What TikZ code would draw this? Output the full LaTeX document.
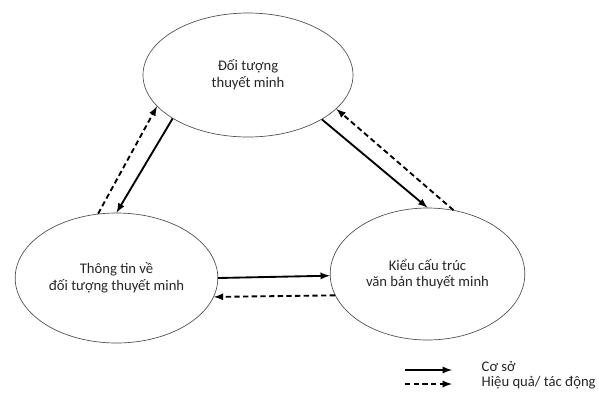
\documentclass[tikz,border=0pt]{standalone}
\usepackage{fontspec}
\setmainfont{Carlito}
\usepackage{tikz}
\usetikzlibrary{shapes.geometric}

\begin{document}
\begin{tikzpicture}[>=latex, x=0.75pt, y=-0.75pt,
  bubble/.style={draw=black!70, line width=0.5pt, ellipse, inner sep=0pt,
    align=center, text=black!85, font=\fontsize{11}{12.5}\selectfont},
  coso/.style={line width=1.4pt, ->},
  hieuqua/.style={line width=1.4pt, ->, dash pattern=on 4pt off 2.5pt}]
  \useasboundingbox (0,0) rectangle (599,397);
  \node (doituong) at (248,75) [bubble, minimum width=157.5pt, minimum height=93pt] {Đối tượng\\thuyết minh};
  \node (thongtin) at (116.5,278) [bubble, minimum width=152pt, minimum height=97.5pt] {Thông tin về\\đối tượng thuyết minh};
  \node (kieu) at (427.5,274) [bubble, minimum width=146pt, minimum height=99pt] {Kiểu cấu trúc\\văn bản thuyết minh};
  \draw [coso] (doituong.210.5) -- (thongtin.90);
  \draw [hieuqua] (thongtin.106.8) -- (doituong.199.9);
  \draw [coso] (doituong.329.8) -- (kieu.90);
  \draw [hieuqua] (kieu.68.3) -- (doituong.339.3);
  \draw [coso] (thongtin.0) -- (kieu.181);
  \draw [hieuqua] (kieu.193) -- (thongtin.349);
  % chu thich
  \coordinate (a1) at (405,370);
  \coordinate (a2) at (452,370);
  \coordinate (b1) at (405,384);
  \coordinate (b2) at (452,384);
  \draw [coso] (a1) -- (a2);
  \draw [hieuqua] (b1) -- (b2);
  \node (lcoso) at (477,366) [anchor=west, text=black!85, font=\fontsize{11}{12.5}\selectfont] {Cơ sở};
  \node (lhieuqua) at (477,383) [anchor=west, text=black!85, font=\fontsize{11}{12.5}\selectfont] {Hiệu quả/ tác động};
\end{tikzpicture}
\end{document}
